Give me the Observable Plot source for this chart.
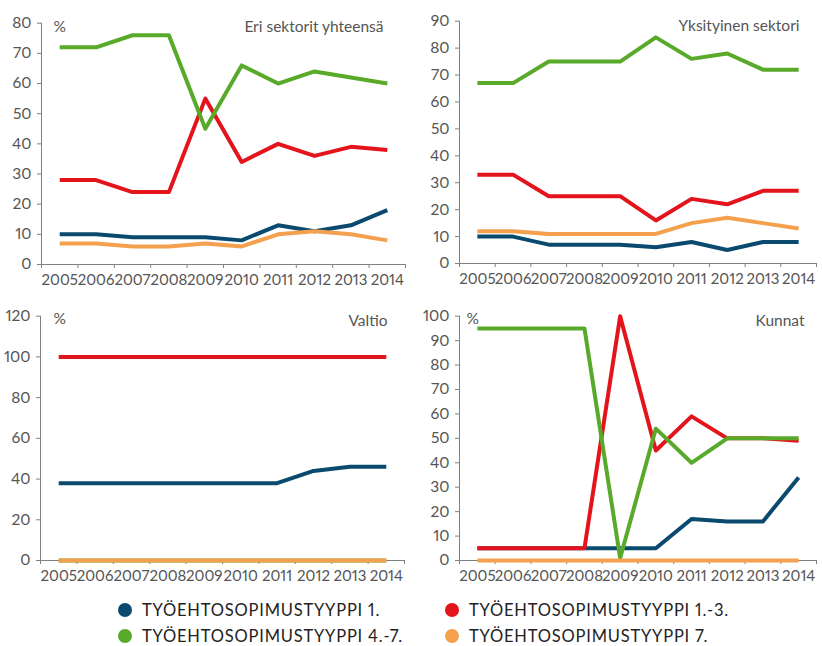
<!DOCTYPE html>
<html>
<head>
<meta charset="utf-8">
<script src="https://cdn.jsdelivr.net/npm/d3@7"></script>
<script src="https://cdn.jsdelivr.net/npm/@observablehq/plot@0.6"></script>
<style>
  html, body { margin: 0; padding: 0; background: #fff; }
  #root { position: relative; width: 822px; height: 646px; overflow: hidden; font-family: Lato, sans-serif; }
  .panel { position: absolute; }
  .panel svg text { font-variant-numeric: proportional-nums; font-feature-settings: "pnum" 1; }
  .legend-item { position: absolute; display: flex; align-items: center; font-family: Lato, sans-serif; font-size: 16.5px; letter-spacing: 0.8px; color: #222; white-space: nowrap; line-height: 1; font-variant-numeric: proportional-nums; }
  .legend-dot { width: 14px; height: 14px; border-radius: 50%; margin-right: 10px; flex: none; }
</style>
</head>
<body>
<div id="root"></div>
<script>
// ---- Data ----
const years = [2005, 2006, 2007, 2008, 2009, 2010, 2011, 2012, 2013, 2014];
const seriesNames = ["TYÖEHTOSOPIMUSTYYPPI 1.", "TYÖEHTOSOPIMUSTYYPPI 1.-3.", "TYÖEHTOSOPIMUSTYYPPI 4.-7.", "TYÖEHTOSOPIMUSTYYPPI 7."];
const seriesColors = ["#0b4a6f", "#e3141b", "#59aa2a", "#f4a04e"];
const panelTitles = ["Eri sektorit yhteensä", "Yksityinen sektori", "Valtio", "Kunnat"];

// Eri sektorit yhteensä
const kaikkiT1   = [10, 10, 9, 9, 9, 8, 13, 11, 13, 18];
const kaikkiT13  = [28, 28, 24, 24, 55, 34, 40, 36, 39, 38];
const kaikkiT47  = [72, 72, 76, 76, 45, 66, 60, 64, 62, 60];
const kaikkiT7   = [7, 7, 6, 6, 7, 6, 10, 11, 10, 8];
// Yksityinen sektori
const yksityinenT1  = [10, 10, 7, 7, 7, 6, 8, 5, 8, 8];
const yksityinenT13 = [33, 33, 25, 25, 25, 16, 24, 22, 27, 27];
const yksityinenT47 = [67, 67, 75, 75, 75, 84, 76, 78, 72, 72];
const yksityinenT7  = [12, 12, 11, 11, 11, 11, 15, 17, 15, 13];
// Valtio
const valtioT1  = [38, 38, 38, 38, 38, 38, 38, 44, 46, 46];
const valtioT13 = [100, 100, 100, 100, 100, 100, 100, 100, 100, 100];
const valtioT47 = [0, 0, 0, 0, 0, 0, 0, 0, 0, 0];
const valtioT7  = [0, 0, 0, 0, 0, 0, 0, 0, 0, 0];
// Kunnat
const kunnatT1  = [5, 5, 5, 5, 5, 5, 17, 16, 16, 34];
const kunnatT13 = [5, 5, 5, 5, 100, 45, 59, 50, 50, 49];
const kunnatT47 = [95, 95, 95, 95, 1, 54, 40, 50, 50, 50];
const kunnatT7  = [0, 0, 0, 0, 0, 0, 0, 0, 0, 0];

const yTicks1 = [0, 10, 20, 30, 40, 50, 60, 70, 80];
const yTicks2 = [0, 10, 20, 30, 40, 50, 60, 70, 80, 90];
const yTicks3 = [0, 20, 40, 60, 80, 100, 120];
const yTicks4 = [0, 10, 20, 30, 40, 50, 60, 70, 80, 90, 100];

function toRows(arrs) {
  const rows = [];
  arrs.forEach((arr, si) => arr.forEach((v, i) => rows.push({year: years[i], value: v, series: seriesNames[si]})));
  return rows;
}

function panel(cfg) {
  const x0 = years[0] - 0.5, x1 = years[years.length - 1] + 0.5;
  const bounds = d3.range(years.length + 1).map(i => x0 + i);
  const marks = [
    Plot.ruleY([0], {stroke: "#808080", strokeWidth: 1}),
    Plot.ruleX([x0], {stroke: "#808080", strokeWidth: 1}),
    Plot.axisY(cfg.yTicks, {tickSize: 4, tickPadding: 6, tickFormat: d => String(d), label: null, stroke: "#808080", fill: "#555", fontSize: 15.5}),
    Plot.axisX(bounds, {tickSize: 4, tickFormat: () => "", label: null, stroke: "#808080"}),
    Plot.axisX(years, {tickSize: 0, tickPadding: 10, tickFormat: d => String(d), label: null, fill: "#555", fontSize: 15}),
    Plot.line(toRows(cfg.series), {x: "year", y: "value", z: "series", stroke: "series", strokeWidth: 4, strokeLinecap: "butt", strokeLinejoin: "round"}),
    Plot.text([cfg.title], {text: d => d, frameAnchor: "top-right", textAnchor: "end", lineAnchor: "middle", dx: cfg.titleDx, dy: cfg.titleDy, fontSize: 15.5, fill: "#555"})
  ];
  if (cfg.pct) marks.push(Plot.text(["%"], {text: d => d, frameAnchor: "top-left", textAnchor: "start", lineAnchor: "middle", dx: cfg.pctDx, dy: cfg.pctDy, fontSize: 15.5, fill: "#555"}));
  const svg = Plot.plot({
    width: cfg.w, height: cfg.h,
    marginLeft: cfg.ml, marginRight: cfg.mr, marginTop: cfg.mt, marginBottom: cfg.mb,
    x: {domain: [x0, x1]},
    y: {domain: [0, cfg.yTicks[cfg.yTicks.length - 1]]},
    color: {domain: seriesNames, range: seriesColors},
    style: {fontFamily: "Lato, sans-serif", fontSize: "15px", color: "#555", background: "transparent", overflow: "visible"},
    marks
  });
  const div = document.createElement("div");
  div.className = "panel";
  div.style.left = cfg.left + "px";
  div.style.top = cfg.top + "px";
  div.appendChild(svg);
  document.getElementById("root").appendChild(div);
}

panel({title: panelTitles[0], series: [kaikkiT1, kaikkiT13, kaikkiT47, kaikkiT7], yTicks: yTicks1,
  left: 0, top: 0, w: 411, h: 295, ml: 41, mr: 6, mt: 22.7, mb: 31, titleDx: -22, titleDy: 4, pct: true, pctDx: 12, pctDy: 3.5});
panel({title: panelTitles[1], series: [yksityinenT1, yksityinenT13, yksityinenT47, yksityinenT7], yTicks: yTicks2,
  left: 411, top: 0, w: 411, h: 295, ml: 48, mr: 6, mt: 20.7, mb: 32, titleDx: -17, titleDy: 5, pct: false});
panel({title: panelTitles[2], series: [valtioT1, valtioT13, valtioT47, valtioT7], yTicks: yTicks3,
  left: 0, top: 290, w: 411, h: 300, ml: 40, mr: 7, mt: 25.7, mb: 30, titleDx: -17, titleDy: 5, pct: true, pctDx: 13, pctDy: 2.5});
panel({title: panelTitles[3], series: [kunnatT1, kunnatT13, kunnatT47, kunnatT7], yTicks: yTicks4,
  left: 411, top: 290, w: 411, h: 300, ml: 48, mr: 6, mt: 25.7, mb: 30, titleDx: -12, titleDy: 5, pct: true, pctDx: 7, pctDy: 2.5});

// ---- Legend ----
const legendPos = [[118, 610], [445, 610], [118, 636], [445, 636]];
const legendOrder = [0, 1, 2, 3];
legendOrder.forEach((si, k) => {
  const item = document.createElement("div");
  item.className = "legend-item";
  item.style.left = legendPos[k][0] + "px";
  item.style.top = (legendPos[k][1] - 9) + "px";
  item.style.height = "18px";
  const dot = document.createElement("span");
  dot.className = "legend-dot";
  dot.style.background = seriesColors[si];
  const label = document.createElement("span");
  label.textContent = seriesNames[si];
  item.appendChild(dot);
  item.appendChild(label);
  document.getElementById("root").appendChild(item);
});
</script>
</body>
</html>
